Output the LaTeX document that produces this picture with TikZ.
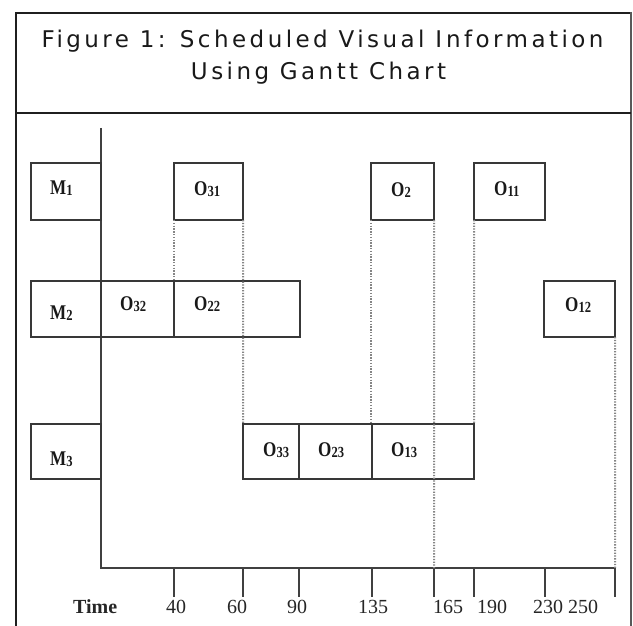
\documentclass[tikz,border=0pt]{standalone}
\usepackage{fontspec}
\setmainfont{Liberation Serif}
\newfontfamily\titlefont[LetterSpace=15]{DejaVu Sans}

% machine / operation label: bold letter with a small bold index
\newcommand{\glbl}[2]{\scalebox{0.9}[1.1]{\textbf{#1}\raisebox{-1bp}{\fontsize{14bp}{14bp}\selectfont\textbf{#2}}}}

\begin{document}
\begin{tikzpicture}[x=1bp,y=-1bp,
  framel/.style={draw=black!88,line width=1.5bp},
  gbox/.style={draw=black!78,line width=1.7bp,inner sep=0pt,outer sep=0pt,anchor=north west},
  glabel/.style={inner sep=0pt,anchor=base west,text=black!90,font=\fontsize{19bp}{21bp}\selectfont},
  axisl/.style={draw=black!75,line width=1.6bp},
  guide/.style={draw=black!48,line width=2bp,dash pattern=on 1.3bp off 1.5bp},
  ticklbl/.style={inner sep=0pt,anchor=base west,text=black!85,font=\fontsize{20bp}{22bp}\selectfont},
  titlel/.style={inner sep=0pt,anchor=base,text=black!90,font=\titlefont\fontsize{23bp}{26bp}\selectfont}]
\useasboundingbox (0,0) rectangle (633,626);
\fill[white] (0,0) rectangle (633,626);

% frame and title panel
\draw[framel] (16,626) -- (16,13) -- (631,13);
\draw[draw=black!65,line width=2.6bp] (631,12) -- (631,626);
\draw[framel] (16,113) -- (631,113);
\node[titlel] (title1) at (322.5,48) {Figure 1: Scheduled Visual I\kern4bp nformation};
\node[titlel] (title2) at (318.5,80) {Using Gantt Chart};

% axes
\coordinate (ytop) at (101,128);
\coordinate (orig) at (101,568);
\coordinate (xend) at (615,568);
\draw[axisl] (ytop) -- (orig) -- (xend);
\foreach \n/\x in {40/174,60/243,90/299,135/372,165/434,190/474,230/545,250/615}{
  \coordinate (t\n) at (\x,568);
  \draw[axisl] (t\n) -- ++(0,29);
}

% machine M1
\node[gbox,minimum width=70bp,minimum height=57bp] (m1) at (31,163) {};
\node[gbox,minimum width=69bp,minimum height=57bp] (o31) at (174,163) {};
\node[gbox,minimum width=63bp,minimum height=57bp] (o2) at (371,163) {};
\node[gbox,minimum width=71bp,minimum height=57bp] (o11) at (474,163) {};
% machine M2
\node[gbox,minimum width=70bp,minimum height=56bp] (m2) at (31,281) {};
\node[gbox,minimum width=73bp,minimum height=56bp] (o32) at (101,281) {};
\node[gbox,minimum width=126bp,minimum height=56bp] (o22) at (174,281) {};
\node[gbox,minimum width=71bp,minimum height=56bp] (o12) at (544,281) {};
% machine M3
\node[gbox,minimum width=70bp,minimum height=55bp] (m3) at (31,424) {};
\node[gbox,minimum width=56bp,minimum height=55bp] (o33) at (243,424) {};
\node[gbox,minimum width=73bp,minimum height=55bp] (o23) at (299,424) {};
\node[gbox,minimum width=102bp,minimum height=55bp] (o13) at (372,424) {};

% labels inside the bars
\node[glabel] (lm1) at (50,194) {\glbl{M}{1}};
\node[glabel] (lo31) at (194,195) {\glbl{O}{31}};
\node[glabel] (lo2) at (391,196) {\glbl{O}{2}};
\node[glabel] (lo11) at (494,195) {\glbl{O}{11}};
\node[glabel] (lm2) at (50,319) {\glbl{M}{2}};
\node[glabel] (lo32) at (120,310) {\glbl{O}{32}};
\node[glabel] (lo22) at (194,310) {\glbl{O}{22}};
\node[glabel] (lo12) at (565,311) {\glbl{O}{12}};
\node[glabel] (lm3) at (50,465) {\glbl{M}{3}};
\node[glabel] (lo33) at (263,456) {\glbl{O}{33}};
\node[glabel] (lo23) at (318,456) {\glbl{O}{23}};
\node[glabel] (lo13) at (391,456) {\glbl{O}{13}};

% dotted guides between dependent operations
\draw[guide] (o31.south west) -- (o22.north west);
\draw[guide] (o31.south east) -- (o33.north west);
\draw[guide] (o2.south west) -- (o2.south west |- o13.north);
\draw[guide] (o2.south east) -- (t165);
\draw[guide] (o11.south west) -- (o13.north east);
\draw[guide] (o12.south east) -- (t250);

% time scale
\node[ticklbl,font=\bfseries\fontsize{20bp}{22bp}\selectfont] (ltime) at (73,613) {Time};
\node[ticklbl] (l40) at (166,613) {40};
\node[ticklbl] (l60) at (227,613) {60};
\node[ticklbl] (l90) at (287,613) {90};
\node[ticklbl] (l135) at (358,613) {135};
\node[ticklbl] (l165) at (433,613) {165};
\node[ticklbl] (l190) at (477,613) {190};
\node[ticklbl] (l230) at (533,613) {230};
\node[ticklbl] (l250) at (568,613) {250};
\end{tikzpicture}
\end{document}
